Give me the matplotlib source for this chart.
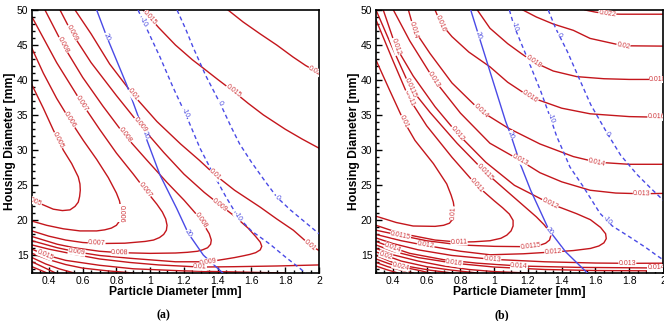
import numpy as np
import matplotlib
matplotlib.use("Agg")
import matplotlib.pyplot as plt
from matplotlib.ticker import MultipleLocator, FuncFormatter

# ──────────────────────────────────────────────
# Contour lines
# x = particle diameter [mm], y = housing diameter [mm]
# ──────────────────────────────────────────────

# ---- panel (a), red contours
A005_X = [0.300, 0.367, 0.426, 0.486, 0.535, 0.574, 0.584, 0.586, 0.582, 0.574, 0.555,
          0.525, 0.480, 0.426, 0.300]
A005_Y = [39.3, 36.0, 32.9, 30.0, 28.1, 26.2, 25.2, 24.3, 23.4, 22.6, 22.0,
          21.5, 21.4, 21.6, 22.9]
A006_X = [0.300, 0.367, 0.446, 0.525, 0.604, 0.683, 0.752, 0.800, 0.818, 0.826, 0.826,
          0.818, 0.800, 0.770, 0.730, 0.683, 0.584, 0.486, 0.387, 0.300]
A006_Y = [44.5, 41.0, 37.4, 34.3, 31.4, 28.7, 26.1, 23.9, 22.8, 21.8, 20.8,
          19.9, 19.3, 18.9, 18.65, 18.5, 18.5, 18.8, 19.3, 19.9]
A007_X = [0.300, 0.446, 0.596, 0.700, 0.800, 0.900, 0.970, 1.040, 1.072, 1.092, 1.100,
          1.096, 1.080, 1.055, 1.020, 0.970, 0.850, 0.700, 0.600, 0.500, 0.400, 0.300]
A007_Y = [49.0, 42.5, 36.7, 33.0, 29.6, 26.6, 24.4, 22.3, 21.2, 20.2, 19.3,
          18.6, 18.0, 17.55, 17.2, 17.0, 16.75, 16.7, 16.85, 17.2, 17.75, 18.5]
A008_X = [0.377, 0.484, 0.600, 0.720, 0.851, 0.980, 1.100, 1.200, 1.280, 1.320, 1.350,
          1.362, 1.358, 1.340, 1.310, 1.280, 1.220, 1.150, 1.000, 0.820, 0.700, 0.550,
          0.450, 0.300]
A008_Y = [50.0, 45.0, 40.4, 36.3, 32.1, 28.6, 25.4, 22.9, 20.7, 19.3, 18.1,
          17.2, 16.6, 16.1, 15.8, 15.6, 15.45, 15.35, 15.3, 15.4, 15.6, 16.1,
          16.6, 17.7]
A009_X = [0.466, 0.537, 0.650, 0.800, 0.940, 1.080, 1.200, 1.320, 1.414, 1.500, 1.580,
          1.625, 1.652, 1.661, 1.652, 1.625, 1.590, 1.552, 1.500, 1.450, 1.345, 1.150,
          0.880, 0.700, 0.565, 0.450, 0.300]
A009_Y = [50.0, 46.7, 42.5, 37.8, 33.6, 29.7, 26.6, 24.0, 22.2, 20.6, 18.9,
          17.7, 16.9, 16.3, 15.8, 15.4, 15.15, 14.95, 14.7, 14.5, 14.1, 14.1,
          14.6, 15.0, 15.5, 16.1, 17.1]
A010U_X = [0.555, 0.650, 0.760, 0.900, 1.040, 1.180, 1.290, 1.384, 1.500, 1.651, 1.750,
           1.848, 1.947, 2.000]
A010U_Y = [50.0, 46.6, 42.3, 37.9, 34.1, 30.9, 28.6, 26.5, 24.3, 21.9, 20.2,
           18.6, 16.5, 15.7]
A010L_X = [0.300, 0.400, 0.565, 0.700, 0.880, 1.050, 1.295, 1.500, 1.750, 2.000]
A010L_Y = [16.5, 15.9, 15.1, 14.5, 14.0, 13.65, 13.35, 13.4, 13.5, 13.65]
A015U_X = [0.958, 1.050, 1.150, 1.250, 1.315, 1.400, 1.493, 1.580, 1.670, 1.800, 1.900, 2.000]
A015U_Y = [50.0, 47.5, 45.0, 42.9, 41.7, 40.1, 38.4, 36.7, 35.05, 33.0, 31.6, 30.3]
A015L_X = [0.300, 0.377, 0.500, 0.700, 0.900, 1.200, 1.500, 1.800]
A015L_Y = [15.9, 15.1, 14.3, 13.6, 13.1, 12.8, 12.65, 12.5]
A020U_X = [1.461, 1.550, 1.651, 1.750, 1.846, 1.920, 2.000]
A020U_Y = [50.0, 48.3, 46.6, 45.0, 43.3, 42.1, 41.0]
A020L_X = [0.300, 0.400, 0.500, 0.600, 0.750, 0.900]
A020L_Y = [15.3, 14.4, 13.7, 13.2, 12.8, 12.5]
A025_X = [0.300, 0.380, 0.460, 0.550]
A025_Y = [14.7, 13.8, 13.1, 12.5]
A030_X = [0.300, 0.370, 0.440]
A030_Y = [14.1, 13.3, 12.5]
A035_X = [0.300, 0.350, 0.390]
A035_Y = [13.4, 12.9, 12.5]

# ---- panel (a), blue contours
A_B20_X = [0.683, 0.742, 0.861, 0.969, 1.058, 1.157, 1.226, 1.315, 1.430]
A_B20_Y = [50.0, 46.24, 39.33, 32.19, 26.48, 21.71, 18.14, 15.05, 12.5]
A_BM10_X = [0.928, 0.990, 1.058, 1.135, 1.218, 1.295, 1.370, 1.450, 1.520, 1.600, 1.710,
            1.800, 1.890, 1.920]
A_BM10_Y = [50.0, 46.8, 43.3, 39.0, 34.7, 30.3, 26.8, 23.3, 20.5, 18.5, 16.6,
            14.8, 13.1, 12.5]
A_B0_X = [1.159, 1.210, 1.254, 1.330, 1.414, 1.480, 1.530, 1.600, 1.680, 1.751, 1.830,
          1.905, 2.000]
A_B0_Y = [50.0, 47.3, 44.7, 40.6, 36.7, 33.3, 30.9, 28.3, 25.6, 23.3, 21.5, 20.0, 18.1]

# ---- panel (b), red contours
B010_X = [0.300, 0.380, 0.466, 0.531, 0.640, 0.719, 0.745, 0.758, 0.764, 0.762, 0.752,
          0.735, 0.700, 0.650, 0.520, 0.420, 0.300]
B010_Y = [42.86, 38.6, 34.1, 31.4, 28.1, 25.2, 23.6, 22.6, 21.6, 20.8, 20.1,
          19.6, 19.3, 19.15, 19.2, 19.7, 20.6]
B011_X = [0.300, 0.400, 0.496, 0.600, 0.750, 0.896, 1.000, 1.050, 1.090, 1.112, 1.112,
          1.100, 1.075, 1.040, 0.975, 0.880, 0.792, 0.650, 0.500, 0.400, 0.300]
B011_Y = [48.6, 42.8, 37.4, 33.5, 29.0, 25.0, 22.8, 21.8, 20.9, 20.0, 19.2,
          18.5, 17.9, 17.45, 17.1, 16.95, 16.9, 17.2, 17.9, 18.5, 19.3]
B0115_X = [0.300, 0.390, 0.505, 0.620, 0.780, 0.946, 1.050, 1.150, 1.250, 1.295, 1.325,
           1.335, 1.328, 1.305, 1.270, 1.200, 1.000, 0.800, 0.600, 0.446, 0.300]
B0115_Y = [50.0, 45.0, 38.86, 35.4, 31.0, 26.9, 24.7, 22.6, 20.5, 19.4, 18.5,
           17.8, 17.2, 16.75, 16.45, 16.25, 16.3, 16.5, 17.1, 17.86, 18.6]
B012_X = [0.343, 0.417, 0.520, 0.650, 0.782, 0.950, 1.120, 1.331, 1.489, 1.570, 1.630,
          1.660, 1.664, 1.650, 1.620, 1.570, 1.469, 1.350, 1.173, 0.975, 0.800, 0.594,
          0.450, 0.300]
B012_Y = [50.0, 44.8, 40.6, 36.2, 32.4, 28.3, 25.0, 22.4, 20.95, 20.1, 19.0,
          18.1, 17.4, 16.8, 16.35, 16.0, 15.7, 15.5, 15.24, 15.1, 15.6, 16.43,
          17.1, 18.0]
B013U_X = [0.403, 0.500, 0.644, 0.800, 0.975, 1.153, 1.271, 1.400, 1.568, 1.720, 1.874, 2.000]
B013U_Y = [50.0, 45.6, 40.05, 35.3, 31.0, 28.57, 26.8, 25.5, 24.3, 23.9, 23.8, 23.85]
B013L_X = [0.300, 0.400, 0.550, 0.750, 0.989, 1.300, 1.600, 1.789, 2.000]
B013L_Y = [17.5, 16.7, 15.8, 15.0, 14.45, 14.1, 13.92, 13.88, 13.9]
B014U_X = [0.492, 0.525, 0.620, 0.750, 0.920, 1.080, 1.271, 1.469, 1.607, 1.800, 2.000]
B014U_Y = [50.0, 47.2, 43.8, 39.6, 35.6, 33.2, 30.9, 29.1, 28.3, 28.0, 28.0]
B014L_X = [0.300, 0.400, 0.500, 0.700, 0.900, 1.147, 1.500, 1.937, 2.000]
B014L_Y = [17.0, 16.1, 15.3, 14.4, 13.9, 13.5, 13.3, 13.22, 13.22]
B016U_X = [0.650, 0.683, 0.750, 0.850, 0.975, 1.080, 1.212, 1.400, 1.568, 1.800, 2.000]
B016U_Y = [50.0, 48.1, 46.2, 44.0, 41.9, 39.7, 37.6, 36.0, 35.2, 34.8, 34.7]
B016L_X = [0.300, 0.400, 0.550, 0.762, 1.000, 1.300, 1.600, 2.000]
B016L_Y = [16.5, 15.6, 14.7, 13.9, 13.35, 13.0, 12.85, 12.8]
B018U_X = [0.900, 0.975, 1.080, 1.160, 1.232, 1.350, 1.489, 1.650, 1.800, 2.000]
B018U_Y = [50.0, 47.4, 45.2, 43.8, 42.6, 41.3, 40.5, 40.2, 40.1, 40.1]
B018L_X = [0.300, 0.400, 0.550, 0.700, 0.850, 1.000, 1.200]
B018L_Y = [16.0, 15.1, 14.2, 13.5, 13.0, 12.7, 12.5]
B020U_X = [1.170, 1.250, 1.350, 1.469, 1.568, 1.765, 2.000]
B020U_Y = [50.0, 49.0, 48.0, 47.1, 45.95, 44.9, 44.85]
B020L_X = [0.300, 0.357, 0.450, 0.600, 0.750, 0.900]
B020L_Y = [15.5, 15.0, 14.2, 13.4, 12.9, 12.5]
B022U_X = [1.538, 1.600, 1.670, 1.750, 2.000]
B022U_Y = [50.0, 49.7, 49.45, 49.4, 49.4]
B022L_X = [0.300, 0.400, 0.500, 0.620, 0.750]
B022L_Y = [15.0, 14.0, 13.4, 12.9, 12.5]
B024_X = [0.300, 0.380, 0.446, 0.550, 0.620]
B024_Y = [14.5, 13.8, 13.4, 12.9, 12.5]
B026_X = [0.300, 0.370, 0.440, 0.520]
B026_Y = [14.0, 13.4, 12.95, 12.5]
B028_X = [0.300, 0.360, 0.430]
B028_Y = [13.5, 13.0, 12.5]

# ---- panel (b), blue contours
B_B20_X = [0.861, 0.969, 1.068, 1.098, 1.157, 1.216, 1.325, 1.424, 1.552]
B_B20_Y = [50.0, 41.7, 34.1, 32.2, 27.9, 24.3, 18.6, 15.5, 12.5]
B_BM10_X = [1.090, 1.118, 1.197, 1.276, 1.335, 1.370, 1.410, 1.449, 1.528, 1.627, 1.700,
            1.805, 1.900, 1.963, 2.000]
B_BM10_Y = [50.0, 47.7, 43.1, 38.4, 34.5, 32.0, 29.8, 27.6, 24.8, 21.0, 19.2,
            17.6, 16.1, 15.0, 14.4]
B_B0_X = [1.320, 1.364, 1.433, 1.493, 1.572, 1.670, 1.749, 1.848, 1.927, 2.000]
B_B0_Y = [50.0, 47.4, 44.1, 40.8, 36.5, 32.4, 29.3, 26.5, 24.6, 22.9]

# line tables: (key, label text, x, y)
A_RED = [
    ("a005", "0.005", A005_X, A005_Y), ("a006", "0.006", A006_X, A006_Y),
    ("a007", "0.007", A007_X, A007_Y), ("a008", "0.008", A008_X, A008_Y),
    ("a009", "0.009", A009_X, A009_Y), ("a010u", "0.01", A010U_X, A010U_Y),
    ("a010l", "0.01", A010L_X, A010L_Y), ("a015u", "0.015", A015U_X, A015U_Y),
    ("a015l", "0.015", A015L_X, A015L_Y), ("a020u", "0.02", A020U_X, A020U_Y),
    ("a020l", "0.02", A020L_X, A020L_Y), ("a025", "0.025", A025_X, A025_Y),
    ("a030", "0.03", A030_X, A030_Y), ("a035", "0.035", A035_X, A035_Y),
]
A_BLUE = [
    ("a20", "20", "-", A_B20_X, A_B20_Y),
    ("am10", "-10", "--", A_BM10_X, A_BM10_Y),
    ("a0", "0", "--", A_B0_X, A_B0_Y),
]
B_RED = [
    ("b010", "0.01", B010_X, B010_Y), ("b011", "0.011", B011_X, B011_Y),
    ("b0115", "0.0115", B0115_X, B0115_Y), ("b012", "0.012", B012_X, B012_Y),
    ("b013u", "0.013", B013U_X, B013U_Y), ("b013l", "0.013", B013L_X, B013L_Y),
    ("b014u", "0.014", B014U_X, B014U_Y), ("b014l", "0.014", B014L_X, B014L_Y),
    ("b016u", "0.016", B016U_X, B016U_Y), ("b016l", "0.016", B016L_X, B016L_Y),
    ("b018u", "0.018", B018U_X, B018U_Y), ("b018l", "0.018", B018L_X, B018L_Y),
    ("b020u", "0.02", B020U_X, B020U_Y), ("b020l", "0.02", B020L_X, B020L_Y),
    ("b022u", "0.022", B022U_X, B022U_Y), ("b022l", "0.022", B022L_X, B022L_Y),
    ("b024", "0.024", B024_X, B024_Y), ("b026", "0.026", B026_X, B026_Y),
    ("b028", "0.028", B028_X, B028_Y),
]
B_BLUE = [
    ("b20", "20", "-", B_B20_X, B_B20_Y),
    ("bm10", "-10", "--", B_BM10_X, B_BM10_Y),
    ("b0", "0", "--", B_B0_X, B_B0_Y),
]

# inline label spots: (line key, x, y)
A_LABELS = [
    ("a005", 0.454, 31.4), ("a005", 0.31, 22.8),
    ("a006", 0.525, 34.3), ("a006", 0.828, 21.0),
    ("a007", 0.596, 36.7), ("a007", 0.97, 24.4), ("a007", 0.683, 16.7),
    ("a008", 0.484, 45.0), ("a008", 0.851, 32.1), ("a008", 1.305, 20.0), ("a008", 0.82, 15.4),
    ("a009", 0.537, 46.7), ("a009", 0.94, 33.6), ("a009", 1.414, 22.2),
    ("a009", 1.345, 14.1), ("a009", 0.565, 15.5),
    ("a010u", 0.90, 37.9), ("a010u", 1.384, 26.5), ("a010u", 1.947, 16.5),
    ("a010l", 1.295, 13.35),
    ("a015u", 1.00, 48.9), ("a015u", 1.493, 38.4), ("a015l", 0.377, 15.1),
    ("a020u", 1.975, 41.3),
    ("a20", 0.742, 46.2), ("a20", 0.97, 32.1), ("a20", 1.226, 18.1),
    ("am10", 0.96, 48.3), ("am10", 1.206, 35.3), ("am10", 1.52, 20.5),
    ("a0", 1.414, 36.7), ("a0", 1.751, 23.3),
]
B_LABELS = [
    ("b010", 0.466, 34.1), ("b010", 0.764, 21.0),
    ("b011", 0.496, 37.4), ("b011", 0.896, 25.0), ("b011", 0.792, 16.9),
    ("b0115", 0.505, 38.86), ("b0115", 0.946, 26.9), ("b0115", 1.216, 16.25),
    ("b0115", 0.446, 17.86),
    ("b012", 0.417, 44.8), ("b012", 0.782, 32.4), ("b012", 1.331, 22.4),
    ("b012", 1.35, 15.5), ("b012", 0.594, 16.43),
    ("b013u", 0.644, 40.05), ("b013u", 1.153, 28.57), ("b013u", 1.874, 23.8),
    ("b013l", 0.989, 14.45), ("b013l", 1.789, 13.88),
    ("b014u", 0.525, 47.2), ("b014u", 0.92, 35.6), ("b014u", 1.607, 28.3),
    ("b014l", 0.40, 16.1), ("b014l", 1.147, 13.5), ("b014l", 1.96, 13.22),
    ("b016u", 0.683, 48.1), ("b016u", 1.212, 37.6), ("b016u", 1.96, 34.75),
    ("b016l", 0.762, 13.9),
    ("b018u", 1.232, 42.6), ("b018u", 1.97, 40.1),
    ("b020u", 1.765, 44.9), ("b020l", 0.357, 15.0),
    ("b022u", 1.67, 49.45), ("b024", 0.446, 13.4),
    ("b20", 0.91, 46.4), ("b20", 1.098, 32.2), ("b20", 1.33, 18.5),
    ("bm10", 1.118, 47.7), ("bm10", 1.335, 34.5), ("bm10", 1.667, 20.0),
    ("b0", 1.384, 46.5), ("b0", 1.670, 32.4),
]

# ──────────────────────────────────────────────
# Style
# ──────────────────────────────────────────────
plt.rcParams.update({
    "font.family": ["Liberation Sans", "DejaVu Sans"],
    "axes.linewidth": 1.2,
})
RED = "#c4161c"
RED_TXT = "#d0383d"
BLUE = "#4a4ae6"
BLUE_TXT = "#5050e0"
XLIM = (0.3, 2.0)
YLIM = (12.5, 50.0)


def put_label(ax, xs, ys, x0, y0, text, color):
    """Snap a label onto the polyline and rotate it along the local direction."""
    pts = ax.transData.transform(np.column_stack([xs, ys]))
    p = ax.transData.transform((x0, y0))
    best = None
    for i in range(len(pts) - 1):
        a, b = pts[i], pts[i + 1]
        ab = b - a
        t = np.clip(np.dot(p - a, ab) / np.dot(ab, ab), 0, 1)
        q = a + t * ab
        d = np.hypot(*(p - q))
        if best is None or d < best[0]:
            best = (d, q, ab)
    _, q, ab = best
    ang = np.degrees(np.arctan2(ab[1], ab[0]))
    if ang > 90:
        ang -= 180
    if ang < -90:
        ang += 180
    xd, yd = ax.transData.inverted().transform(q)
    ax.text(xd, yd, text, rotation=ang, rotation_mode="anchor",
            ha="center", va="center", fontsize=5.0, color=color,
            bbox=dict(fc="white", ec="none", pad=0.1), clip_on=True, zorder=5)


def draw_panel(ax, red, blue, labels, tag):
    ax.set_xlim(*XLIM)
    ax.set_ylim(*YLIM)
    lines = {}
    for key, txt, xs, ys in red:
        ax.plot(xs, ys, color=RED, lw=1.0, zorder=2, solid_joinstyle="round")
        lines[key] = (xs, ys, txt, RED_TXT)
    for key, txt, ls, xs, ys in blue:
        if ls == "--":
            ax.plot(xs, ys, color=BLUE, lw=1.0, dashes=(3, 2.2), zorder=3)
        else:
            ax.plot(xs, ys, color=BLUE, lw=1.0, zorder=3, solid_joinstyle="round")
        lines[key] = (xs, ys, txt, BLUE_TXT)
    for key, x0, y0 in labels:
        xs, ys, txt, col = lines[key]
        put_label(ax, xs, ys, x0, y0, txt, col)

    ax.xaxis.set_major_locator(MultipleLocator(0.2))
    ax.xaxis.set_minor_locator(MultipleLocator(0.05))
    ax.yaxis.set_major_locator(MultipleLocator(5))
    ax.yaxis.set_minor_locator(MultipleLocator(1))
    ax.xaxis.set_major_formatter(FuncFormatter(lambda v, p: f"{v:g}"))
    ax.tick_params(which="both", direction="in", top=False, right=False,
                   labelsize=7.5, width=1.0, pad=2.5)
    ax.tick_params(which="major", length=4.5)
    ax.tick_params(which="minor", length=2.2)
    ax.set_xlabel("Particle Diameter [mm]", fontsize=8.7, fontweight="bold", labelpad=0)
    ax.set_ylabel("Housing Diameter [mm]", fontsize=8.7, fontweight="bold", labelpad=1)
    ax.text(tag[1], -0.16, tag[0], transform=ax.transAxes, ha="center", va="center",
            fontsize=8.5, fontweight="bold", family=["Liberation Serif", "DejaVu Serif"])


fig = plt.figure(figsize=(6.64, 3.21), dpi=100)
ax_a = fig.add_axes([32 / 664, 48 / 321, 287 / 664, 263 / 321])
ax_b = fig.add_axes([376 / 664, 48 / 321, 287 / 664, 263 / 321])

draw_panel(ax_a, A_RED, A_BLUE, A_LABELS, ("(a)", 0.457))
draw_panel(ax_b, B_RED, B_BLUE, B_LABELS, ("(b)", 0.439))

fig.savefig("out.png", dpi=100, facecolor="white")
